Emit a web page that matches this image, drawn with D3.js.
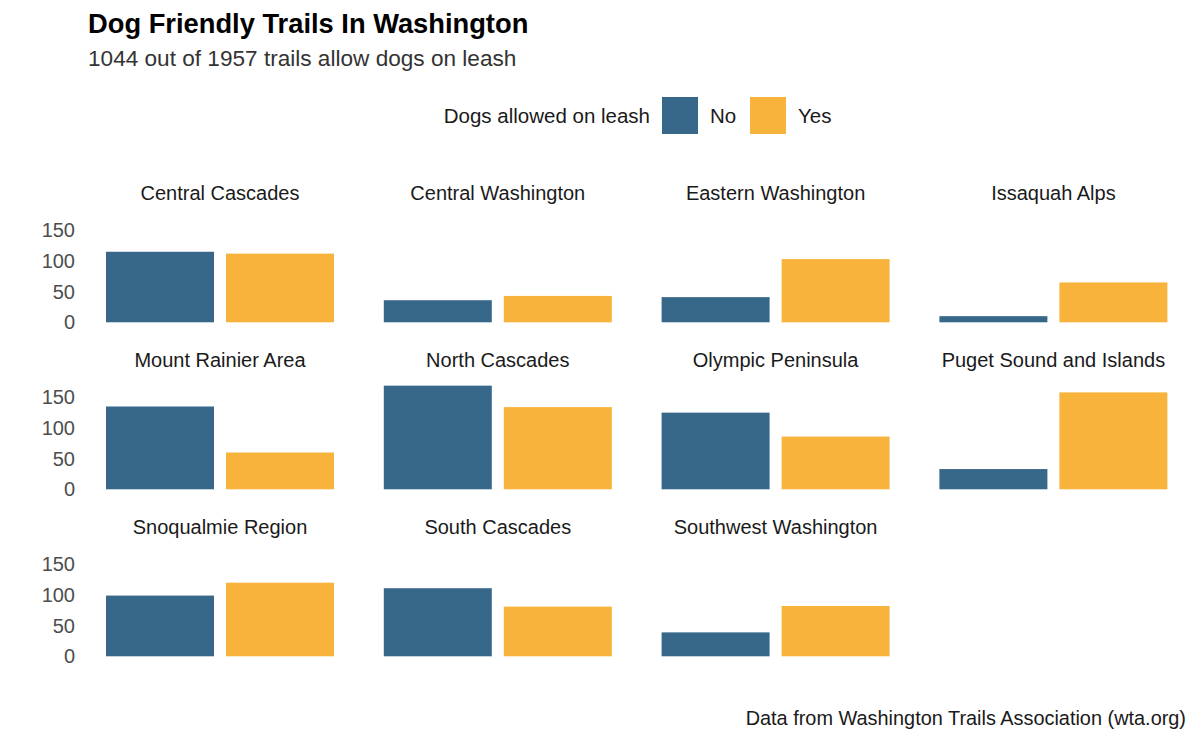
<!DOCTYPE html>
<html>
<head>
<meta charset="utf-8">
<script src="https://cdn.jsdelivr.net/npm/d3@7"></script>
<style>
  html, body { margin: 0; padding: 0; background: #ffffff; }
  svg { display: block; font-family: "Liberation Sans", Arial, Helvetica, sans-serif; }
</style>
</head>
<body>
<svg id="chart" width="1200" height="741"></svg>
<script>
// ---- data ----
const regions = [
  "Central Cascades", "Central Washington", "Eastern Washington", "Issaquah Alps",
  "Mount Rainier Area", "North Cascades", "Olympic Peninsula", "Puget Sound and Islands",
  "Snoqualmie Region", "South Cascades", "Southwest Washington"
];
const leashCategories = ["No", "Yes"];
const countNo  = [115, 36, 41, 10, 135, 169, 125, 33, 99, 111, 39];
const countYes = [112, 43, 103, 65, 60, 134, 86, 158, 120, 81, 82];
const yTicks = [0, 50, 100, 150];
const colorsByCategory = ["#376789", "#F8B33C"];

const titleText = "Dog Friendly Trails In Washington";
const subtitleText = "1044 out of 1957 trails allow dogs on leash";
const legendTitle = "Dogs allowed on leash";
const captionText = "Data from Washington Trails Association (wta.org)";

// ---- layout ----
const svg = d3.select("#chart");
const nCols = 4;
const panelW = 264;
const panelLeft0 = 88;
const colStep = 277.8;
const zeroY0 = 322.3;
const rowStep = 167;
const px150 = 92; // pixels for 150 units

const color = d3.scaleOrdinal().domain(leashCategories).range(colorsByCategory);

// title & subtitle
svg.append("text").attr("x", 88).attr("y", 32.5)
  .attr("font-size", 27.3).attr("font-weight", "bold").attr("fill", "#000")
  .text(titleText);
svg.append("text").attr("x", 88).attr("y", 66)
  .attr("font-size", 22.6).attr("fill", "#333")
  .text(subtitleText);

// legend
const legend = svg.append("g");
legend.append("text").attr("x", 650).attr("y", 123.3).attr("text-anchor", "end")
  .attr("font-size", 20.5).attr("fill", "#1a1a1a").text(legendTitle);
const keyX = d3.scaleOrdinal().domain(leashCategories).range([662, 750]);
leashCategories.forEach(c => {
  legend.append("rect").attr("x", keyX(c)).attr("y", 97).attr("width", 36).attr("height", 37)
    .attr("fill", color(c));
  legend.append("text").attr("x", keyX(c) + 48).attr("y", 123.3)
    .attr("font-size", 20.5).attr("fill", "#1a1a1a").text(c);
});

// panels
regions.forEach((reg, i) => {
  const col = i % nCols, row = Math.floor(i / nCols);
  const left = panelLeft0 + col * colStep;
  const zeroY = zeroY0 + row * rowStep;
  const x = d3.scaleBand().domain(leashCategories).range([left, left + panelW])
    .paddingInner(0.1).paddingOuter(0.15);
  const y = d3.scaleLinear().domain([0, 150]).range([zeroY, zeroY - px150]);
  const g = svg.append("g");
  const vals = [{cat: "No", v: countNo[i]}, {cat: "Yes", v: countYes[i]}];
  g.selectAll("rect").data(vals).join("rect")
    .attr("x", d => x(d.cat)).attr("width", x.bandwidth())
    .attr("y", d => y(d.v)).attr("height", d => y(0) - y(d.v))
    .attr("fill", d => color(d.cat));
  // strip label
  g.append("text").attr("x", left + panelW / 2).attr("y", zeroY - 122.3)
    .attr("text-anchor", "middle").attr("font-size", 20).attr("fill", "#1a1a1a")
    .text(reg);
  // y axis on first column
  if (col === 0) {
    const ax = svg.append("g").attr("transform", `translate(${left},0)`)
      .call(d3.axisLeft(y).tickValues(yTicks).tickSize(0).tickPadding(13));
    ax.select(".domain").remove();
    ax.selectAll("text").attr("font-size", 20).attr("fill", "#4d4d4d")
      .attr("font-family", "Liberation Sans, Arial, sans-serif");
  }
});

// caption
svg.append("text").attr("x", 1186).attr("y", 725).attr("text-anchor", "end")
  .attr("font-size", 19.9).attr("fill", "#1a1a1a").text(captionText);
</script>
</body>
</html>
